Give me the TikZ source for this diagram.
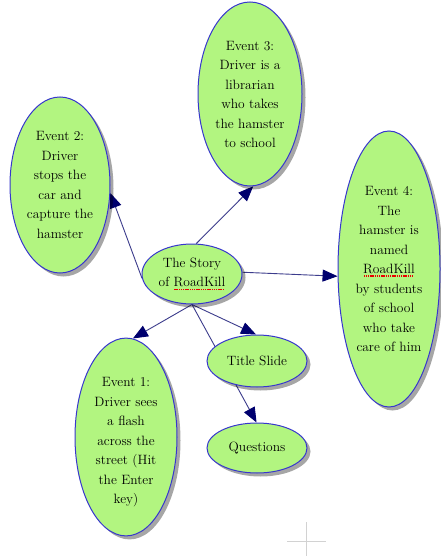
\documentclass[tikz,border=0pt]{standalone}
\usetikzlibrary{shapes.geometric,arrows.meta,shadows,backgrounds}
\definecolor{nodefill}{RGB}{178,245,128}
\definecolor{nodeborder}{RGB}{55,55,205}
\definecolor{edgec}{RGB}{60,60,140}
\definecolor{tipc}{RGB}{0,0,110}
\definecolor{crossc}{RGB}{210,210,210}
\definecolor{spellc}{RGB}{235,0,0}
\newcommand\spellmark[1]{\sbox0{#1}\rlap{\raisebox{-3.2pt}{\textcolor{spellc}{\leaders\hbox to 2.2pt{\hss\rule{1.4pt}{1.4pt}\hss}\hskip\wd0}}}#1}
\begin{document}
\begin{tikzpicture}[x=1pt,y=-1pt,
  ev/.style={ellipse, draw=nodeborder, line width=1pt, fill=nodefill, inner sep=0pt,
    align=center, font=\rmfamily\fontsize{13.5}{19.5}\selectfont,
    drop shadow={shadow xshift=3.5pt, shadow yshift=-3.5pt, fill=black, opacity=0.35}},
  link/.style={draw=edgec, line width=0.9pt},
  arr/.style={link, -{Triangle[length=15pt,width=12pt,color=tipc]}}]
\useasboundingbox (0,0) rectangle (441,556);
\node[ev, minimum width=100pt, minimum height=60pt] (c) at (192,274) {The Story\\of \spellmark{RoadKill}};
\node[ev, minimum width=100pt, minimum height=176pt] (ev2) at (60,185) {Event 2:\\Driver\\stops the\\car and\\capture the\\hamster};
\node[ev, minimum width=104pt, minimum height=184pt] (ev3) at (250,94) {\mbox{}\\[-9pt]Event 3:\\Driver is a\\librarian\\who takes\\the hamster\\to school};
\node[ev, minimum width=102pt, minimum height=276pt] (ev4) at (389,269) {Event 4:\\The\\hamster is\\named\\\spellmark{RoadKill}\\by students\\of school\\who take\\care of him};
\node[ev, minimum width=102pt, minimum height=184pt] (ev1) at (126,437) {\mbox{}\\Event 1:\\Driver sees\\a flash\\across the\\street (Hit\\the Enter\\key)};
\node[ev, minimum width=100pt, minimum height=52pt] (ts) at (257,361) {Title Slide};
\node[ev, minimum width=100pt, minimum height=50pt] (q) at (257,448) {Questions};
\begin{scope}[on background layer]
  \fill[white] (0,0) rectangle (441,556);
  \draw[arr] (c.185) -- (ev2.-9);
  \draw[arr] (c.82) -- (ev3.-88);
  \draw[arr] (c.2) -- (ev4.188);
  \draw[arr] (c.south) -- (ev1.86);
  \draw[arr] (c.south) -- (ts.92);
  \draw[arr] (c.south) -- (q.91);
  \draw[crossc, line width=1pt] (287,541) -- (326,541);
  \draw[crossc, line width=1pt] (306,522) -- (306,556);
\end{scope}
\end{tikzpicture}
\end{document}
